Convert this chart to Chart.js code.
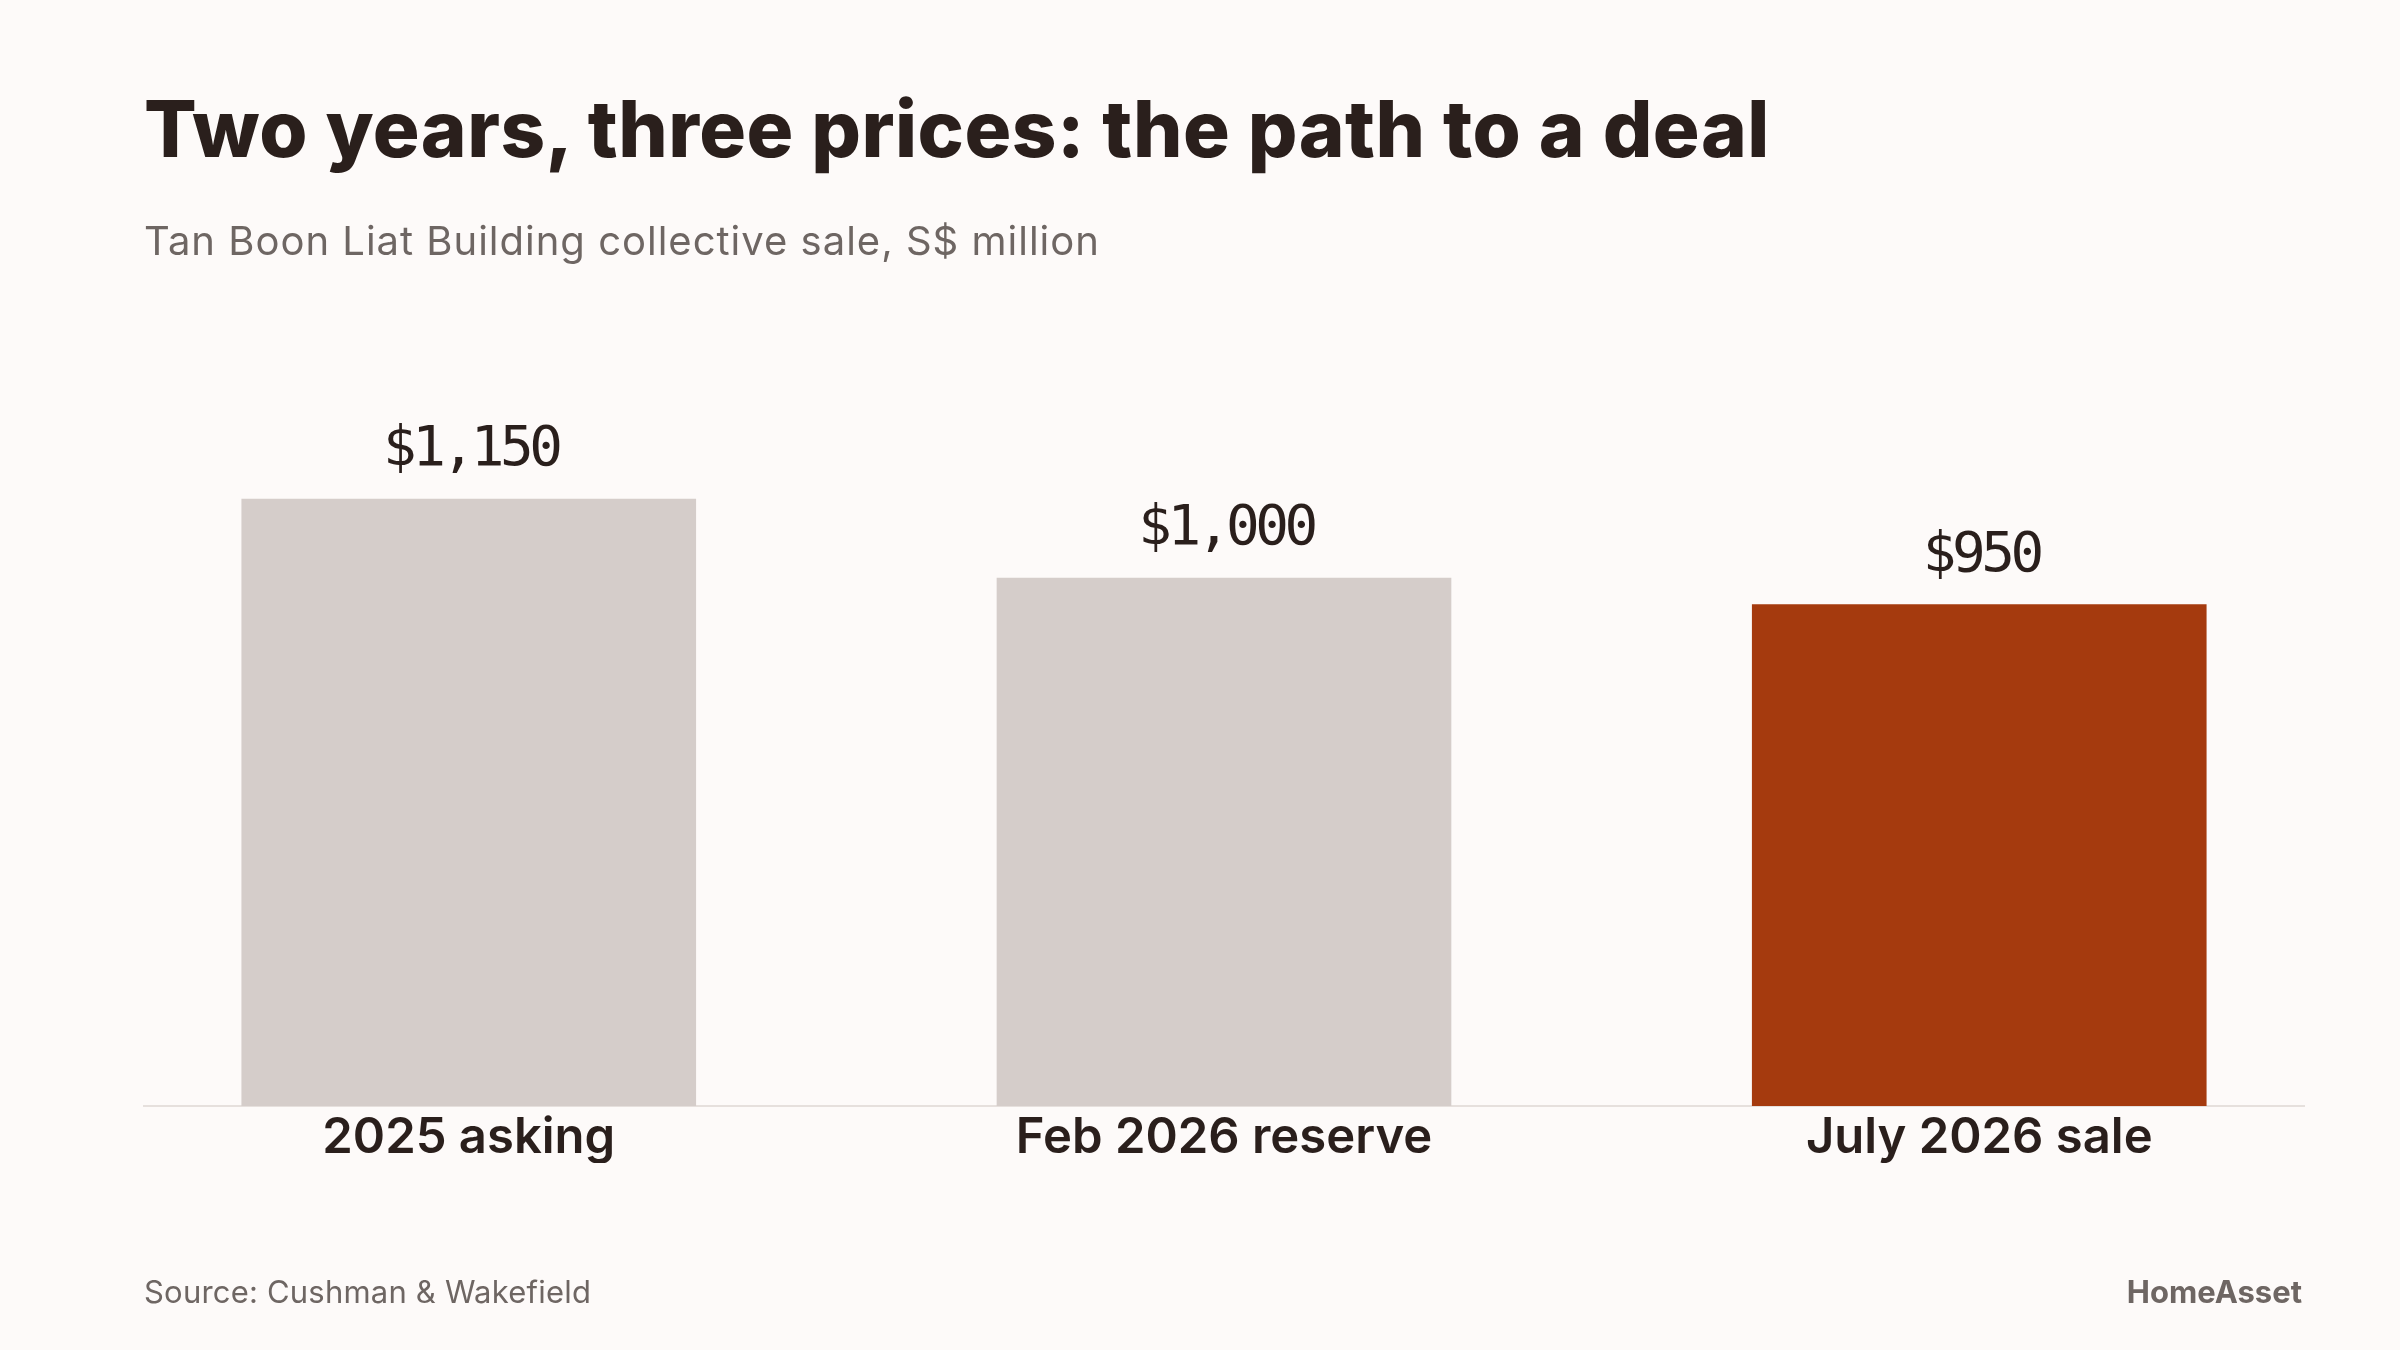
<!DOCTYPE html>
<html>
<head>
<meta charset="utf-8">
<title>Two years, three prices</title>
<script src="https://cdn.jsdelivr.net/npm/chart.js@4.4.1/dist/chart.umd.min.js"></script>
<style>
  html, body { margin: 0; padding: 0; background: #fdfaf9; }
  #frame { position: relative; width: 2400px; height: 1350px; overflow: hidden; background: #fdfaf9; }
  #frame canvas { position: absolute; left: 0; top: 0; }
  .txt { position: absolute; margin: 0; line-height: 1; white-space: nowrap; font-family: Inter, "Noto Sans", sans-serif; }
  h1.txt { left: 144px; top: 90px; font-size: 78px; font-weight: 800; color: #2a1f1c; letter-spacing: 0.45px; }
  .sub { left: 144px; top: 221px; font-size: 40px; font-weight: 400; color: #6e6663; letter-spacing: 1px; }
  .source { left: 144px; top: 1276px; font-size: 31px; font-weight: 400; color: #6e6663; letter-spacing: 0.2px; }
  .brand { right: 98px; top: 1276px; font-size: 31px; font-weight: 700; color: #6e6663; }
</style>
</head>
<body>
<div id="frame">
  <canvas id="priceChart" width="2400" height="1350"></canvas>
  <h1 class="txt">Two years, three prices: the path to a deal</h1>
  <div class="txt sub">Tan Boon Liat Building collective sale, S$ million</div>
  <div class="txt source">Source: Cushman &amp; Wakefield</div>
  <div class="txt brand">HomeAsset</div>
</div>
<script>
// Data
const categories = ["2025 asking", "Feb 2026 reserve", "July 2026 sale"];
const prices = [1150, 1000, 950];
const highlightIndex = 2;

const GREY = "#d5cdca";
const RUST = "#a53a0e";
const INK = "#2a1f1c";

const fmt = (v) => "$" + v.toLocaleString("en-US");

// value labels above each bar
const valueLabels = {
  id: "valueLabels",
  afterDatasetsDraw(chart) {
    const { ctx } = chart;
    const meta = chart.getDatasetMeta(0);
    ctx.save();
    ctx.font = '56px "DejaVu Sans Mono", monospace';
    ctx.letterSpacing = "-4.5px";
    ctx.fillStyle = INK;
    ctx.textAlign = "center";
    ctx.textBaseline = "alphabetic";
    meta.data.forEach((bar, i) => {
      ctx.fillText(fmt(prices[i]), bar.x + 2, bar.y - 34);
    });
    ctx.restore();
  },
};

new Chart(document.getElementById("priceChart").getContext("2d"), {
  type: "bar",
  data: {
    datasets: [
      {
        data: prices.map((v, i) => ({ x: i, y: v })),
        backgroundColor: prices.map((_, i) => (i === highlightIndex ? RUST : GREY)),
        barThickness: 454,
        borderWidth: 0,
      },
    ],
  },
  options: {
    responsive: false,
    animation: false,
    devicePixelRatio: 1,
    layout: { padding: { left: 144, right: 96, top: 367, bottom: 187 } },
    plugins: {
      legend: { display: false },
      tooltip: { enabled: false },
      title: { display: false },
    },
    scales: {
      x: {
        type: "linear",
        offset: false,
        min: -0.43,
        max: 2.43,
        grid: { display: false },
        border: { display: true, color: "#e6e0dd", width: 2 },
        afterBuildTicks: (axis) => {
          axis.ticks = categories.map((_, i) => ({ value: i }));
        },
        ticks: {
          autoSkip: false,
          maxRotation: 0,
          padding: 0,
          color: INK,
          font: { family: "Inter", size: 49, weight: 600, lineHeight: 1 },
          callback: (v) => categories[v],
        },
      },
      y: {
        display: false,
        min: 0,
        max: 1400,
      },
    },
  },
  plugins: [valueLabels],
});
</script>
</body>
</html>
